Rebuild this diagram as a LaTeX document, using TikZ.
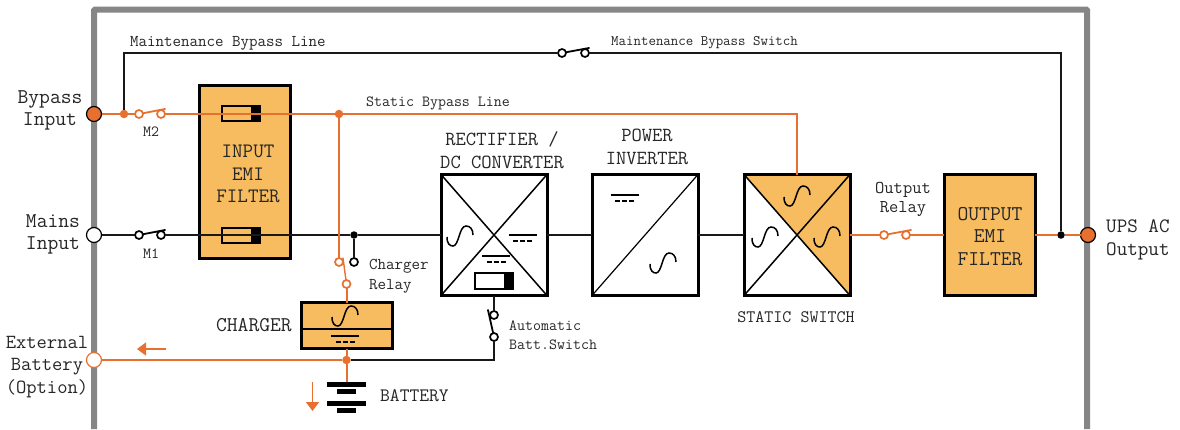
\documentclass[tikz,border=0pt]{standalone}
\usetikzlibrary{calc,arrows.meta}

\definecolor{upsorange}{HTML}{E8702F}
\definecolor{upsfill}{HTML}{F6BC5F}
\definecolor{upsframe}{HTML}{868686}

\begin{document}
\begin{tikzpicture}[x=1pt, y=-1pt,
    box/.style={draw=black, line width=3pt, inner sep=0pt, outer sep=0pt, rectangle},
    fuse/.style={draw=black, line width=1.2pt, inner sep=0pt, outer sep=0pt, rectangle, minimum width=38pt, minimum height=15pt},
    terminal/.style={circle, draw=black, line width=1.2pt, inner sep=0pt, outer sep=0pt, minimum size=15pt},
    contact/.style={circle, draw=black, fill=white, line width=1.7pt, inner sep=0pt, outer sep=0pt, minimum size=8pt},
    ocontact/.style={contact, draw=upsorange},
    dot/.style={circle, fill=black, inner sep=0pt, outer sep=0pt, minimum size=7.5pt},
    odot/.style={dot, fill=upsorange, minimum size=8.5pt},
    plate/.style={fill=black, inner sep=0pt, outer sep=0pt, minimum height=5pt},
    line/.style={line width=1.3pt, black!90},
    oline/.style={line width=2pt, upsorange},
    arm/.style={line width=1.8pt, line cap=round},
    flow/.style={line width=1.3pt, upsorange, -{Triangle[length=9pt,width=13pt]}},
    wave/.style={line width=1.5pt},
    lbl/.style={font=\ttfamily\fontsize{#1}{22.8}\selectfont, text=black!85, inner sep=0pt, align=center},
    tiny/.style={font=\ttfamily\fontsize{#1}{19.5}\selectfont, text=black!85, inner sep=0pt, align=center}]

    \useasboundingbox (0,0) rectangle (1180,429);

    % --- 1. Enclosure ---
    \coordinate (frameA) at (94,429);
    \coordinate (frameB) at (94,9.5);
    \coordinate (frameC) at (1087,9.5);
    \coordinate (frameD) at (1087,429);
    \draw[upsframe, line width=6pt, rounded corners=1pt] (frameA) -- (frameB) -- (frameC) -- (frameD);

    % --- 2. Blocks ---
    \node[box, fill=upsfill, minimum width=91pt, minimum height=173pt] (inputemi) at (244.5,171.5) {};
    \node[box, fill=upsfill, minimum width=91pt, minimum height=46pt] (charger) at (346.5,325.5) {};
    \node[box, fill=white, minimum width=106pt, minimum height=121pt] (rectifier) at (494,235) {};
    \node[box, fill=white, minimum width=106pt, minimum height=121pt] (inverter) at (645,235) {};
    \node[box, fill=white, minimum width=106pt, minimum height=121pt] (static) at (797,235) {};
    \node[box, fill=upsfill, minimum width=91pt, minimum height=121pt] (outemi) at (989.5,235) {};

    % Static switch has two coloured quarters
    \fill[upsfill] (static.north west) -- (static.north east) -- (static.south east) -- (static.center) -- cycle;
    \draw[line width=3pt] (static.north west) rectangle (static.south east);

    % Diagonals
    \draw[line width=1.5pt] (rectifier.north west) -- (rectifier.south east);
    \draw[line width=1.5pt] (rectifier.south west) -- (rectifier.north east);
    \draw[line width=1.2pt] (inverter.south west) -- (inverter.north east);
    \draw[line width=1.5pt] (static.north west) -- (static.south east);
    \draw[line width=1.5pt] (static.south west) -- (static.north east);

    % Charger divider
    \draw[line width=1.5pt] ([yshift=-3.5pt]charger.west) -- ([yshift=-3.5pt]charger.east);

    % Fuses and battery icon
    \node[fuse] (fuseB) at (241,113.5) {};
    \node[fuse] (fuseM) at (241,235.5) {};
    \node[fuse, fill=white, minimum height=16pt] (cell) at (494,281) {};
    \foreach \n in {fuseB,fuseM,cell}
        \fill[black] ([xshift=-9pt]\n.north east) rectangle (\n.south east);

    % AC symbols
    \foreach \x/\y in {460/236,663/263,797/196,765/237,827/237,345/316}
        \draw[wave, shift={(\x,\y)}] (-13,1) .. controls (-13,8) and (-10,10) .. (-7,10)
            .. controls (-1,10) and (-1,-10) .. (6,-10) .. controls (10,-10) and (13,-7) .. (13,-1);

    % DC symbols
    \foreach \x/\y in {522.5/235,496/256,624.5/195,345/335.5} {
        \draw[line width=2pt, shift={(\x,\y)}] (-14,0) -- (14,0);
        \draw[line width=2pt, dash pattern=on 5pt off 2pt, shift={(\x,\y)}] (-9.5,6) -- (10,6);
    }

    % --- 3. Terminals, contacts and junctions ---
    \node[terminal, fill=upsorange] (bypass) at (94,114) {};
    \node[terminal, fill=white] (mains) at (94,235) {};
    \node[terminal, draw=upsorange, fill=white] (extbatt) at (94,360) {};
    \node[terminal, fill=upsorange] (upsout) at (1088,235) {};

    \node[odot] (bypdot) at (124,114) {};
    \node[ocontact] (mtwoA) at (139,114) {};
    \node[ocontact] (mtwoB) at (161,114) {};
    \node[odot] (statdot) at (339,114) {};
    \node[contact] (moneA) at (139,235) {};
    \node[contact] (moneB) at (161,235) {};
    \node[dot] (chgdot) at (354,235) {};
    \node[ocontact] (chgA) at (339,262) {};
    \node[contact] (chgC) at (354,262) {};
    \node[ocontact] (chgB) at (346.5,284) {};
    \node[contact] (mntA) at (562,53) {};
    \node[contact] (mntB) at (585,53) {};
    \node[ocontact] (outA) at (884,235) {};
    \node[ocontact] (outB) at (906,235) {};
    \node[dot] (outdot) at (1061,235) {};
    \node[contact] (autoA) at (494,315) {};
    \node[contact] (autoB) at (494,337) {};
    \node[odot] (batdot) at (346.5,360) {};

    % Battery plates
    \node[plate, minimum width=39pt] (plateA) at (346.5,384.5) {};
    \node[plate, minimum width=19pt] (plateB) at (346.5,391) {};
    \node[plate, minimum width=39pt] (plateC) at (346.5,403.5) {};
    \node[plate, minimum width=19pt] (plateD) at (346.5,410) {};

    % --- 4. Lines ---
    \draw[line] (bypdot) |- (mntA);
    \draw[line] (mntB) -| (outdot);
    \draw[line] (mains) -- (moneA);
    \draw[line] (moneB) -- (chgdot) -- (rectifier.west);
    \draw[line] (chgdot) -- (chgC);
    \draw[line] (rectifier.east) -- (inverter.west);
    \draw[line] (inverter.east) -- (static.west);
    \draw[line] (rectifier.south) -- (autoA);
    \draw[line] (autoB) |- (batdot);

    \draw[oline] (bypass) -- (bypdot) -- (mtwoA);
    \draw[oline] (mtwoB) -- (statdot);
    \draw[oline] (statdot) -| (static.north);
    \draw[oline] (statdot) -- (chgA);
    \draw[oline] (chgB) -- (charger.north);
    \draw[oline] (charger.south) -- (batdot) -- (plateA.north);
    \draw[oline] (extbatt) -- (batdot);
    \draw[oline] (static.east) -- (outA);
    \draw[oline] (outB) -- (outemi.west);
    \draw[oline] (outemi.east) -- (outdot) -- (upsout);

    % Switch arms
    \draw[arm, upsorange] (mtwoA) -- ([shift={(4,-5)}]mtwoB.center);
    \draw[arm] (moneA) -- ([shift={(4,-5)}]moneB.center);
    \draw[arm] (mntA) -- ([shift={(4,-5)}]mntB.center);
    \draw[arm, upsorange] (outA) -- ([shift={(5,-5)}]outB.center);
    \draw[arm, upsorange, line width=1.4pt] (chgB) -- ([shift={(4,-4)}]chgA.center);
    \draw[arm] (autoB) -- ([shift={(-6,-5)}]autoA.center);

    % Flow arrows
    \coordinate (flowA) at (166,349);
    \coordinate (flowB) at (137,349);
    \coordinate (flowC) at (312.5,382);
    \coordinate (flowD) at (312.5,411);
    \draw[flow] (flowA) -- (flowB);
    \draw[flow] (flowC) -- (flowD);

    % --- 5. Labels ---
    \node[tiny=16.5, anchor=west] (lblmaint) at (130,43) {Maintenance Bypass Line};
    \node[tiny=14.5, anchor=west] (lblmsw) at (611,43) {Maintenance Bypass Switch};
    \node[tiny=15.5, anchor=west] (lblstat) at (366,103) {Static Bypass Line};
    \node[lbl=21] (lblbyp) at (50,110.5) {Bypass\\Input};
    \node[lbl=21] (lblmains) at (53,234.5) {Mains\\Input};
    \node[lbl=20] (lblext) at (47,367) {External\\Battery\\(Option)};
    \node[tiny=15.5] (lblmtwo) at (151,132) {M2};
    \node[tiny=15.5] (lblmone) at (151,254) {M1};
    \node[lbl=20.5] (lblinemi) at (248,174) {INPUT\\EMI\\FILTER};
    \node[lbl=21] (lbloutemi) at (990,236.5) {OUTPUT\\EMI\\FILTER};
    \node[lbl=20] (lblrect) at (502,150.5) {RECTIFIER /\\DC CONVERTER};
    \node[lbl=20] (lblinv) at (647,147) {POWER\\INVERTER};
    \node[lbl=17.5] (lblstatic) at (796,317) {STATIC SWITCH};
    \node[tiny=18] (lblorel) at (903,199.5) {Output\\Relay};
    \node[lbl=20.5, anchor=west, align=left] (lblups) at (1106,240) {UPS AC\\Output};
    \node[lbl=21, anchor=east] (lblchg) at (292,325) {CHARGER};
    \node[lbl=19, anchor=west] (lblbat) at (380,396) {BATTERY};
    \node[tiny=16.5, anchor=west, align=left] (lblcrel) at (369,276) {Charger\\Relay};
    \node[tiny=15.5, anchor=west, align=left] (lblauto) at (509,335) {Automatic\\Batt.Switch};

\end{tikzpicture}
\end{document}
